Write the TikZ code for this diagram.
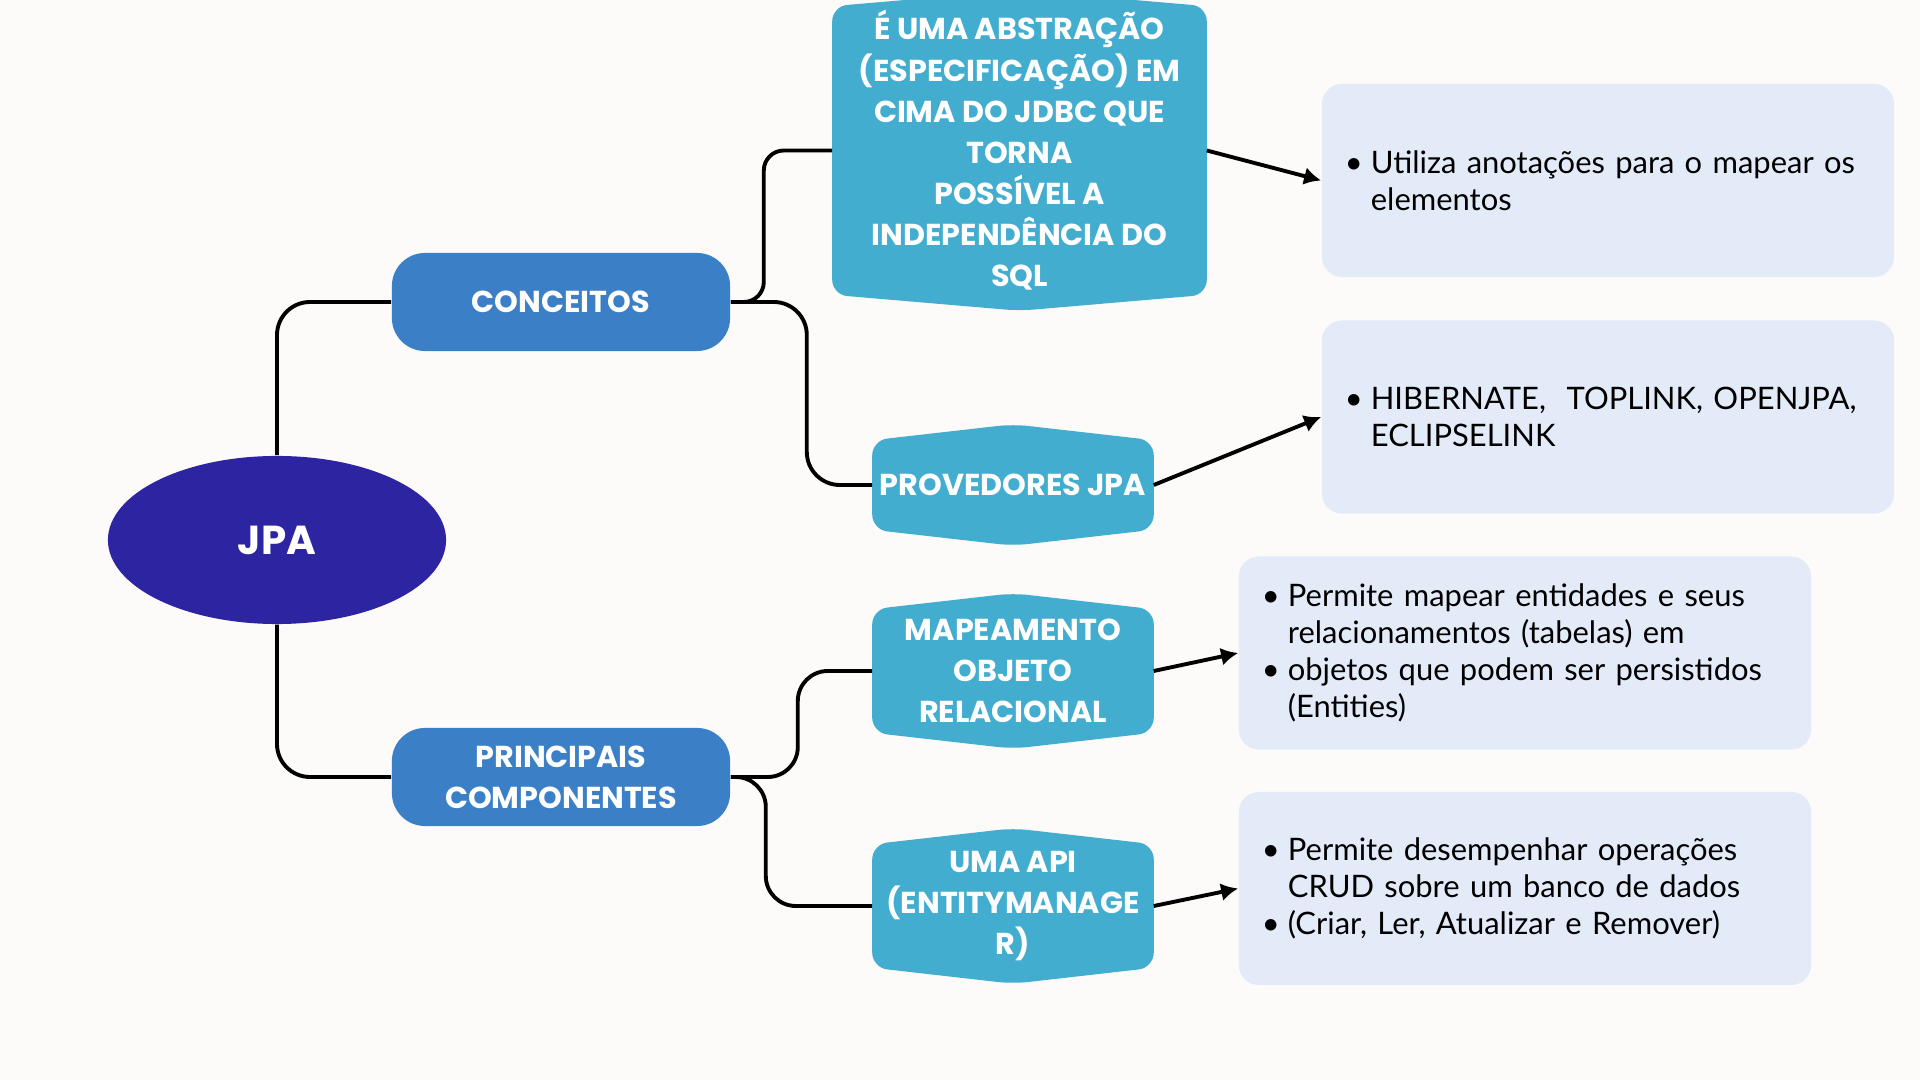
\documentclass[tikz,border=0pt]{standalone}
\usepackage{fontspec}
\setmainfont{Poppins}
\newfontfamily\bodyfont{Lato}
\usepackage{tikz}
\usetikzlibrary{shapes.geometric, arrows.meta, backgrounds}

\definecolor{pagebg}{HTML}{FCFBF9}
\definecolor{jpafill}{HTML}{2C24A0}
\definecolor{topicfill}{HTML}{3B80C6}
\definecolor{hexfill}{HTML}{43ADD0}
\definecolor{infofill}{HTML}{E4EBF8}

\newcommand{\bul}{\makebox[2.6mm][l]{\textbullet}}
\newcommand{\ind}{\hspace*{2.6mm}}

\tikzset{
    label font/.style={font=\bfseries\fontsize{8.6}{11.7}\selectfont, text=white, align=center},
    topic/.style={label font, fill=topicfill, rounded corners=3.3mm, minimum width=33.8mm, minimum height=9.8mm},
    hexbox/.style={label font, inner sep=0pt, minimum width=28mm, minimum height=12.2mm},
    infobox/.style={fill=infofill, rounded corners=2mm, minimum width=57.2mm, minimum height=19.3mm,
        text width=52.6mm, align=left, inner sep=0pt, font=\bodyfont\fontsize{8.8}{10.5}\selectfont},
    conn/.style={line width=1.1pt},
    arr/.style={line width=1.1pt, -{Latex[length=1.7mm, width=1.8mm]}}
}

\begin{document}
\begin{tikzpicture}[x=0.01cm, y=-0.01cm]
    \useasboundingbox (0, 0) rectangle (1920, 1080);

    \node[ellipse, fill=jpafill, text=white, minimum width=33.8mm, minimum height=16.8mm,
        font=\bfseries\fontsize{11.5}{14}\selectfont] at (277, 540) (jpa) {JPA};

    \node[topic] at (561, 302) (conc) {CONCEITOS};
    \node[topic] at (561, 777) (prin) {PRINCIPAIS\\COMPONENTES};

    \node[hexbox, minimum width=37.3mm, minimum height=28.7mm] at (1019.5, 150.5) (abstr)
        {É UMA ABSTRAÇÃO\\(ESPECIFICAÇÃO) EM\\CIMA DO JDBC QUE\\TORNA\\POSSÍVEL A\\INDEPENDÊNCIA DO\\SQL};
    \node[hexbox, minimum height=8.8mm] at (1013, 485) (prov) {PROVEDORES JPA};
    \node[hexbox] at (1013, 671) (mapa) {MAPEAMENTO\\OBJETO\\RELACIONAL};
    \node[hexbox] at (1013, 906) (api) {UMA API\\(ENTITYMANAGE\\R)};

    \node[infobox] at (1608, 180.5) (info1) {\bul Utiliza anotações para o mapear os\\\ind elementos};
    \node[infobox] at (1608, 417) (info2) {\bul HIBERNATE,\ \ TOPLINK, OPENJPA,\\\ind ECLIPSELINK};
    \node[infobox] at (1525, 653) (info3)
        {\bul Permite mapear entidades e seus\\\ind relacionamentos (tabelas) em\\\bul objetos que podem ser persistidos\\\ind (Entities)};
    \node[infobox] at (1525, 888.5) (info4)
        {\bul Permite desempenhar operações\\\ind CRUD sobre um banco de dados\\\bul (Criar, Ler, Atualizar e Remover)};

    % page and hexagon shapes behind the text
    \begin{scope}[on background layer]
        \fill[pagebg] (0, 0) rectangle (1920, 1080);
        \foreach \n in {abstr, prov, mapa, api}
            \fill[hexfill, rounded corners=1.5mm] (\n.north west) -- ([yshift=1.6mm]\n.north) -- (\n.north east)
                -- (\n.south east) -- ([yshift=-1.6mm]\n.south) -- (\n.south west) -- cycle;
    \end{scope}

    \draw[conn, rounded corners=3.3mm] (jpa.north) |- (conc.west);
    \draw[conn, rounded corners=3.3mm] (jpa.south) |- (prin.west);
    \draw[conn, rounded corners=2mm] (conc.east) -- ++(33, 0) |- (abstr.west);
    \draw[conn, rounded corners=3.3mm] (conc.east) -- ++(76, 0) |- (prov.west);
    \draw[conn, rounded corners=3mm] (prin.east) -- ++(67, 0) |- (mapa.west);
    \draw[conn, rounded corners=3mm] (prin.east) -- ++(35, 0) |- (api.west);

    \draw[arr] (abstr.east) -- (info1.west);
    \draw[arr] (prov.east) -- (info2.west);
    \draw[arr] (mapa.east) -- (info3.west);
    \draw[arr] (api.east) -- (info4.west);
\end{tikzpicture}
\end{document}
